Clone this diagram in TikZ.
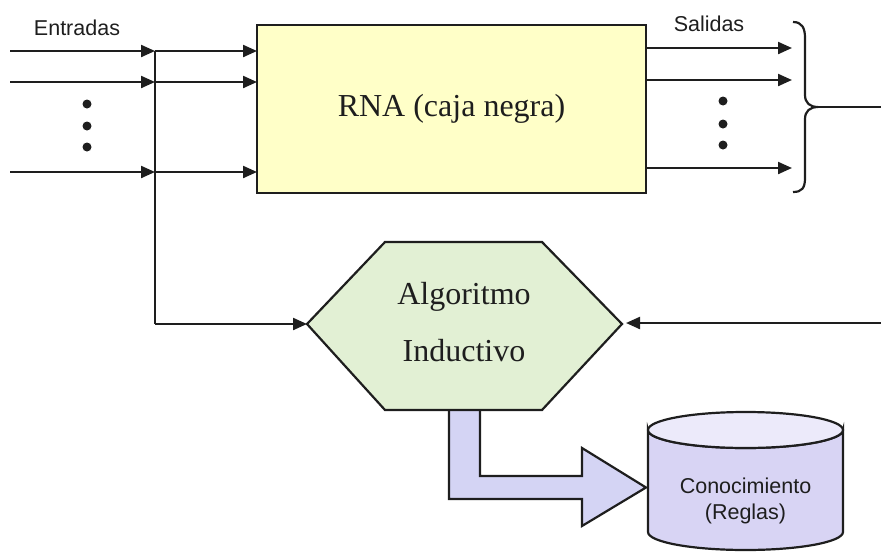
\documentclass[tikz,border=0pt]{standalone}
\usepackage{fontspec}
\setmainfont{Liberation Serif}
\setsansfont{Liberation Sans}
\usetikzlibrary{arrows.meta}
\definecolor{boxyellow}{HTML}{FFFFC8}
\definecolor{hexgreen}{HTML}{E2F0D4}
\definecolor{cylbody}{HTML}{D8D4F4}
\definecolor{cyltop}{HTML}{ECEAFA}
\definecolor{blockblue}{HTML}{D4D4F4}
\definecolor{ink}{HTML}{1E1E1E}
\tikzset{
  wire/.style={draw=ink, line width=2.2pt},
  arr/.style={wire, -{Triangle[length=14pt,width=12pt]}},
  outline/.style={draw=ink, line width=2.2pt, line join=miter},
  serif/.style={font=\fontsize{32}{36}\selectfont\rmfamily, text=ink},
  sans/.style={font=\fontsize{21.5}{25}\selectfont\sffamily, text=ink},
  dot/.style={circle, fill=ink, inner sep=0pt, minimum size=9pt}
}
\begin{document}
\begin{tikzpicture}[x=1pt,y=-1pt]
\useasboundingbox (0,0) rectangle (881,552);

% black box: the neural network
\node[outline, fill=boxyellow, minimum width=389pt, minimum height=168pt, inner sep=0pt]
  (rna) at (451.5,109) {};
\node[serif] (rnatext) at (451.5,109) {RNA (caja negra)};

% input lines and the tap bus
\coordinate (i1a) at (10,51);  \coordinate (i1b) at (155,51);  \coordinate (i1c) at (257,51);
\coordinate (i2a) at (10,82);  \coordinate (i2b) at (155,82);  \coordinate (i2c) at (257,82);
\coordinate (i3a) at (10,172); \coordinate (i3b) at (155,172); \coordinate (i3c) at (257,172);
\coordinate (busend) at (155,324);
\draw[arr] (i1a) -- (i1b);
\draw[arr] (i1b) -- (i1c);
\draw[arr] (i2a) -- (i2b);
\draw[arr] (i2b) -- (i2c);
\draw[arr] (i3a) -- (i3b);
\draw[arr] (i3b) -- (i3c);
\draw[wire] (i1b) -- (busend);
\node[sans] (entradas) at (77,28) {Entradas};
\node[dot] (di1) at (87,104) {};
\node[dot] (di2) at (87,126) {};
\node[dot] (di3) at (87,147) {};

% output lines
\coordinate (o1a) at (646,48);  \coordinate (o1b) at (792,48);
\coordinate (o2a) at (646,80);  \coordinate (o2b) at (792,80);
\coordinate (o3a) at (646,168); \coordinate (o3b) at (792,168);
\draw[arr] (o1a) -- (o1b);
\draw[arr] (o2a) -- (o2b);
\draw[arr] (o3a) -- (o3b);
\node[sans] (salidas) at (709,24) {Salidas};
\node[dot] (do1) at (723,101) {};
\node[dot] (do2) at (723,124) {};
\node[dot] (do3) at (723,145) {};

% brace gathering the outputs
\coordinate (bracetip) at (818,107);
\coordinate (feedright) at (881,107);
\draw[wire] (793,22) .. controls (802,22) and (805,28) .. (805,38) -- (805,95)
  .. controls (805,103) and (810,107) .. (bracetip)
  .. controls (810,107) and (805,111) .. (805,119) -- (805,178)
  .. controls (805,188) and (802,192) .. (793,192);
\draw[wire] (bracetip) -- (feedright);

% block arrow towards the knowledge base
\draw[outline, fill=blockblue] (449,405) -- (480,405) -- (480,476) -- (582,476) -- (582,448)
  -- (646,487.5) -- (582,526) -- (582,499) -- (449,499) -- cycle;

% inductive algorithm
\coordinate (hexL) at (307,324);
\coordinate (hexR) at (622,324);
\draw[outline, fill=hexgreen] (hexL) -- (385,242) -- (542,242) -- (hexR) -- (542,410) -- (385,410) -- cycle;
\node[serif] (alg1) at (464,297) {Algoritmo};
\node[serif] (alg2) at (464,351) {Inductivo};

% feeds into the algorithm
\coordinate (feedin) at (881,323);
\draw[arr] (busend) -- (hexL);
\draw[arr] (feedin) -- ([xshift=4pt]hexR |- feedin);

% knowledge base cylinder
\draw[outline, fill=cylbody] (648,430) -- (648,532)
  arc[start angle=180, end angle=0, x radius=97.5, y radius=18] -- (843,430)
  arc[start angle=0, end angle=180, x radius=97.5, y radius=18] -- cycle;
\draw[outline, fill=cyltop] (745.5,430) ellipse[x radius=97.5, y radius=18];
\node[sans] (con1) at (745.5,486) {Conocimiento};
\node[sans] (con2) at (745.5,514) {(Reglas)};
\end{tikzpicture}
\end{document}
